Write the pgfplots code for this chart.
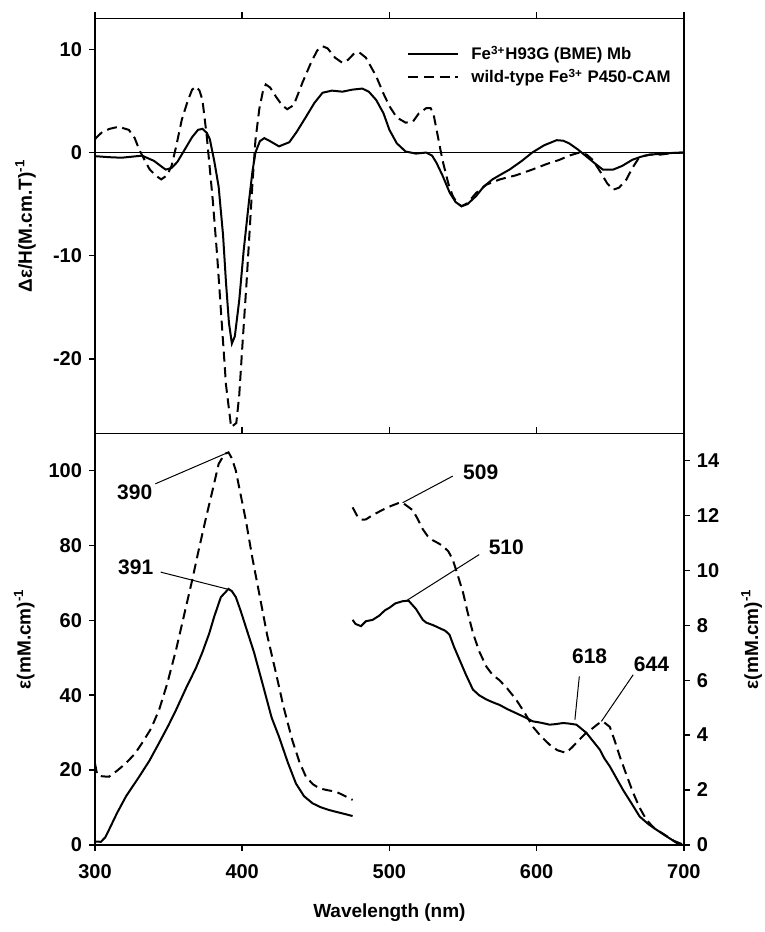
\documentclass[border=0pt]{standalone}
\usepackage{fontspec}
\setmainfont{Liberation Sans}
\usepackage{pgfplots}
\pgfplotsset{compat=1.18}

\pgfplotsset{
  spec/.style={
    scale only axis,
    width=294.5pt,
    xmin=300, xmax=700,
    tick align=outside,
    major tick length=3pt,
    axis line style={line width=0.8pt},
    every tick/.style={line width=0.7pt, black},
    tick label style={font=\fontsize{10}{11}\selectfont\bfseries},
    xticklabel style={yshift=-3.5pt},
    label style={font=\fontsize{9.5}{11}\selectfont\bfseries},
    /pgf/number format/assume math mode=true,
  },
  solidline/.style={black, line width=1pt},
  dashline/.style={black, line width=1pt, dash pattern=on 5pt off 2.8pt},
}

\begin{document}
\begin{tikzpicture}
% MCD panel
\begin{axis}[spec,
  name=top, at={(0,0)}, anchor=south west,
  height=207.5pt,
  ymin=-27.2, ymax=13,
  xtick={300,400,500,600,700}, xticklabels={},
  xtick pos=right,
  ytick={-20,-10,0,10}, ytick pos=left,
  ylabel={Δε/H(M.cm.T)\textsuperscript{-1}},
  ylabel style={at={(axis description cs:-0.118,0.5)}, anchor=center},
  legend style={at={(axis description cs:0.53,0.944)}, anchor=north west,
    draw=none, fill=none, inner sep=0pt, row sep=-1pt,
    font=\fontsize{8.4}{10}\selectfont\bfseries},
  legend cell align=left,
  legend image code/.code={\draw[#1] (0pt,0pt) -- (25pt,0pt); \path (29pt,0pt);},
]
\addplot[black, line width=0.5pt, forget plot] coordinates {(300,0) (700,0)};
\addplot[solidline] coordinates {
(300,-0.35) (310,-0.45) (318,-0.5) (332,-0.3) (340,-0.8) (348,-1.65) (352,-1.5)
(356,-0.9) (361,0.3) (366,1.5) (370,2.2) (373,2.3) (376,1.9) (378,1.3) (381,-0.8)
(384,-3.3) (387,-8) (389,-12.6) (391,-16.5) (393,-18.5) (395,-17.8) (398,-14.3)
(401,-9.5) (404.7,-4.6) (407,-1.8) (409,0) (412,1.1) (415,1.4) (419,1.1) (425,0.6)
(432,1.0) (437,2.0) (443.5,3.5) (449,4.8) (454.6,5.8) (461,6.0) (468,5.9) (475,6.1)
(481.6,6.2) (486,5.9) (491,5.1) (496,3.8) (500,2.2) (505,0.9) (511,0.1) (518,-0.1)
(525,0) (529,-0.3) (532,-1) (536,-2.2) (541,-3.9) (545,-4.8) (549,-5.2) (553,-5.0)
(559,-4.2) (564,-3.3) (570,-2.6) (576,-2.1) (581.6,-1.65) (590,-0.8) (597,0)
(605,0.7) (613.6,1.2) (618,1.15) (622,0.9) (628,0.3) (634,-0.4) (640,-1.1)
(645,-1.65) (652,-1.65) (658,-1.3) (665,-0.7) (671,-0.4) (677,-0.2) (690,-0.05) (700,0)
};
\addlegendentry{Fe\textsuperscript{3+}H93G (BME) Mb}
\addplot[dashline] coordinates {
(300,1.3) (302,1.6) (305,2.0) (310,2.3) (316,2.5) (323,2.2) (327,1.4) (330,0.3)
(334,-0.8) (337,-1.6) (341,-2.2) (345,-2.6) (349,-2.2) (352,-1.3) (355,0.5) (359,3.2)
(363,5.0) (366,6.1) (368.7,6.4) (371,6.0) (373,5.1) (376,1.5) (380,-4.6) (383,-10)
(386.6,-17.5) (389,-22.5) (392.5,-26.6) (396,-26.2) (398,-23.5) (400,-19) (403,-12.5)
(407,-2.9) (409,1.2) (411.6,4.2) (414,5.9) (416,6.6) (419,6.3) (423,5.4) (427,4.6)
(430.6,4.2) (435,4.6) (441,6.8) (447,8.8) (451,9.9) (454.6,10.3) (458,10.1) (463,9.2)
(468,8.7) (472,9.0) (476,9.6) (479.6,9.7) (484,9.2) (491,7.4) (496,5.7) (500,4.5)
(505,3.4) (511,2.9) (516,3.0) (520,3.8) (525,4.3) (528,4.3) (530,3.7) (533,1.5)
(536,-0.7) (540,-3.0) (543,-4.2) (546,-4.9) (549,-5.2) (553,-4.9) (559,-3.9)
(566,-3.1) (575,-2.6) (586,-2.2) (597,-1.65) (607,-1.1) (615.6,-0.7) (622,-0.3)
(629,0) (634,-0.2) (638,-0.7) (643,-1.8) (648,-3.0) (652,-3.6) (656,-3.4) (661,-2.6)
(665,-1.5) (670,-0.4) (677,-0.2) (684,-0.2) (692,-0.05) (700,0)
};
\addlegendentry{wild-type Fe\textsuperscript{3+} P450-CAM}
\end{axis}

% absorption panel, left scale
\begin{axis}[spec,
  name=bot, at={(0,0)}, anchor=north west,
  height=205.8pt,
  ymin=0, ymax=110,
  xtick={300,400,500,600,700}, xtick pos=both,
  ytick={0,20,40,60,80,100}, ytick pos=left,
  xlabel={Wavelength (nm)},
  xlabel style={at={(axis description cs:0.5,-0.164)}, anchor=center},
  ylabel={ε(mM.cm)\textsuperscript{-1}},
  ylabel style={at={(axis description cs:-0.12,0.5)}, anchor=center},
]
\addplot[solidline] coordinates {
(300,0.9) (304,0.8) (307,2) (309.5,4) (315,8.5) (321,12.9) (330,18.2) (337,22.5)
(343.5,27.2) (350,32) (355,36) (362,42) (368.5,47.2) (373,51.5) (377.6,56.5) (381,61)
(385.5,66.2) (390.7,68.4) (393,67.8) (395.7,66.2) (399,62.5) (402.5,58.2) (408,51.5)
(413.8,43.1) (420,34) (425,28.9) (431,22) (436.5,16.4) (442,13) (447.8,11.1)
(453,10.1) (459,9.3) (467,8.5) (475,7.7)
};
\addplot[dashline] coordinates {
(300,21.8) (301.5,18.7) (305,18.3) (309.5,18.2) (315,19.8) (321,21.8) (327,24.3)
(332,27.2) (338,31) (343.5,36) (349,43) (355,52) (360,60.5) (366,70.7) (370,78)
(375,86.7) (380,95) (384,101.8) (388,104.5) (390.7,104.9) (393,103.3) (395.7,100)
(399,93.5) (402.5,86.7) (407,76.5) (411.6,67.1) (417,56) (423,45.8) (428,37) (434,28)
(439,22) (443.3,18.2) (448,16.2) (452.4,15.1) (458,14.6) (463.7,14.2) (469,13.2) (475,12)
};
\draw[line width=0.5pt] (axis cs:341,96.5) -- (axis cs:390.5,104.9);
\draw[line width=0.5pt] (axis cs:344.6,72.9) -- (axis cs:390.5,68.3);
\node[font=\fontsize{10.5}{12}\selectfont\bfseries] at (axis cs:327,94.2) {390};
\node[font=\fontsize{10.5}{12}\selectfont\bfseries] at (axis cs:327.7,74.2) {391};
\end{axis}

% absorption panel, right scale
\begin{axis}[spec,
  at={(0,0)}, anchor=north west,
  height=205.8pt,
  ymin=0, ymax=15,
  axis x line=none, axis y line*=right,
  ytick={0,2,4,6,8,10,12,14},
  ylabel={ε(mM.cm)\textsuperscript{-1}},
  ylabel style={at={(axis description cs:1.115,0.5)}, anchor=center},
]
\addplot[solidline] coordinates {
(475,8.2) (477,8.05) (480.7,7.97) (484,8.15) (488.6,8.2) (493,8.35) (497,8.55)
(500,8.64) (504,8.8) (509,8.88) (513,8.9) (518,8.6) (522.7,8.2) (525,8.1) (530,8.0)
(534,7.9) (538,7.8) (540.8,7.66) (544,7.2) (547.6,6.75) (552,6.2) (556.7,5.66)
(561,5.45) (565.8,5.3) (570,5.2) (574.8,5.1) (580,4.95) (586,4.8) (592,4.65)
(597.5,4.5) (603,4.45) (608.8,4.38) (613,4.4) (617.9,4.44) (622,4.42) (627,4.38)
(630,4.25) (633.8,4.08) (638,3.8) (642.9,3.47) (646,3.15) (649.7,2.86) (654,2.45)
(658.7,2.0) (664,1.55) (670,1.03) (676,0.75) (681.4,0.55) (687,0.35) (692,0.18)
(697,0.0) (700,0)
};
\addplot[dashline] coordinates {
(475,12.3) (478,12.0) (481,11.85) (484,11.86) (488,12.0) (495,12.2) (501,12.35)
(506.8,12.47) (509,12.47) (512,12.35) (515.8,12.2) (519,11.9) (522.7,11.5) (526,11.25)
(529.5,11.1) (533,11.0) (536,10.9) (540,10.7) (543,10.4) (546,9.9) (550,9.2) (553,8.5)
(556.7,7.73) (561,7.05) (565.8,6.5) (570,6.2) (574.8,6.0) (580,5.7) (586,5.3)
(592,4.8) (597.5,4.3) (603,3.95) (608.8,3.65) (614,3.45) (620,3.35) (624,3.55)
(629,3.83) (633,4.05) (638.3,4.26) (642,4.42) (645,4.5) (649.7,4.3) (653,3.8)
(656.5,3.22) (661,2.55) (665.6,1.89) (670,1.35) (674.6,0.91) (680,0.6) (686,0.4)
(693,0.15) (700,0)
};
\draw[line width=0.5pt] (axis cs:543,13.44) -- (axis cs:509,12.47);
\draw[line width=0.5pt] (axis cs:561,10.58) -- (axis cs:511,8.88);
\draw[line width=0.5pt] (axis cs:629,6.14) -- (axis cs:626,4.56);
\draw[line width=0.5pt] (axis cs:665.6,6.2) -- (axis cs:644,4.5);
\node[font=\fontsize{10.5}{12}\selectfont\bfseries] at (axis cs:562,13.57) {509};
\node[font=\fontsize{10.5}{12}\selectfont\bfseries] at (axis cs:579.4,10.83) {510};
\node[font=\fontsize{10.5}{12}\selectfont\bfseries] at (axis cs:636,6.88) {618};
\node[font=\fontsize{10.5}{12}\selectfont\bfseries] at (axis cs:678,6.57) {644};
\end{axis}

\pgfresetboundingbox
\path[use as bounding box] (-47.5pt,-249.4pt) rectangle (335pt,216.7pt);
\end{tikzpicture}
\end{document}
